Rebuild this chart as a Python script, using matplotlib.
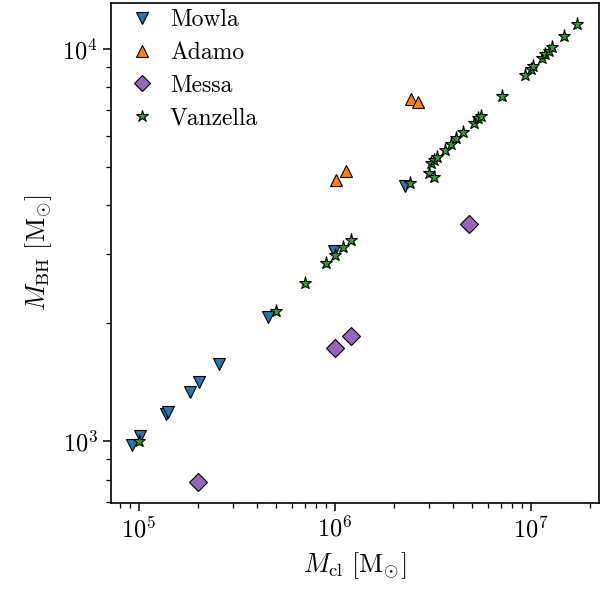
import numpy as np
import matplotlib
matplotlib.use("Agg")
import matplotlib.pyplot as plt
from matplotlib.ticker import NullFormatter

plt.rcParams.update({
    "font.family": "serif",
    "font.serif": ["cmr10"],
    "mathtext.fontset": "cm",
    "axes.formatter.use_mathtext": True,
    "font.size": 17.5,
    "axes.labelsize": 19,
    "xtick.labelsize": 17.5,
    "ytick.labelsize": 17.5,
    "legend.fontsize": 17,
    "axes.linewidth": 1.2,
})

# Mowla
mowla_m = [9.2e4, 1.01e5, 1.37e5, 1.41e5, 1.82e5, 2.03e5, 2.57e5, 4.57e5, 0.99e6, 2.28e6]
mowla_bh = [980, 1030, 1175, 1190, 1340, 1420, 1580, 2080, 3060, 4490]

# Adamo
adamo_m = [1.01e6, 1.14e6, 2.44e6, 2.66e6]
adamo_bh = [4650, 4890, 7450, 7330]

# Messa
messa_m = [2.0e5, 1.0e6, 1.2e6, 4.83e6]
messa_bh = [790, 1730, 1860, 3590]

# Vanzella
vanz_m = [1e5, 5e5, 7e5, 9e5, 1.0e6, 1.1e6, 1.2e6, 2.4e6, 3.0e6, 3.2e6,
          3.09e6, 3.18e6, 3.3e6, 3.63e6, 3.91e6, 4.14e6, 4.52e6, 5.12e6, 5.38e6, 5.56e6,
          7.14e6, 9.3e6, 1.0e7, 1.02e7, 1.13e7, 1.18e7, 1.23e7, 1.28e7, 1.47e7, 1.72e7]
vanz_bh = [1000, 2150, 2535, 2850, 2990, 3125, 3270, 4550, 4830, 4710,
           5120, 5220, 5300, 5520, 5740, 5920, 6140, 6490, 6680, 6770,
           7590, 8570, 8900, 9030, 9500, 9690, 9880, 10100, 10770, 11560]

fig = plt.figure(figsize=(6.12, 5.95), dpi=100)
ax = fig.add_axes([111/612, 1-503/595, 488/612, 500/595])

kw = dict(linestyle="none", markeredgecolor="black", markeredgewidth=0.8)
ax.plot(mowla_m, mowla_bh, marker="v", color="tab:blue", markersize=9, label="Mowla", **kw)
ax.plot(adamo_m, adamo_bh, marker="^", color="tab:orange", markersize=9, label="Adamo", **kw)
ax.plot(messa_m, messa_bh, marker="D", color="tab:purple", markersize=9, label="Messa", **kw)
ax.plot(vanz_m, vanz_bh, marker="*", color="tab:green", markersize=9.5, label="Vanzella", **kw)

ax.set_xscale("log")
ax.set_yscale("log")
ax.set_xlim(7.2e4, 2.22e7)
ax.set_ylim(697, 1.31e4)
ax.yaxis.set_minor_formatter(NullFormatter())
ax.xaxis.set_minor_formatter(NullFormatter())
ax.tick_params(which="major", length=6, width=1.1)
ax.tick_params(which="minor", length=3.5, width=0.9)

ax.set_xlabel(r"$M_{\rm cl}\ [\mathrm{M}_{\odot}]$", labelpad=6)
ax.set_ylabel(r"$M_{\rm BH}\ [\mathrm{M}_{\odot}]$", labelpad=6)

ax.legend(loc="upper left", frameon=False, handlelength=2.1, handletextpad=0.15,
          borderpad=0.1, borderaxespad=0.15, labelspacing=0.45, markerscale=0.95)

plt.savefig("out.png", dpi=100)
plt.close()
